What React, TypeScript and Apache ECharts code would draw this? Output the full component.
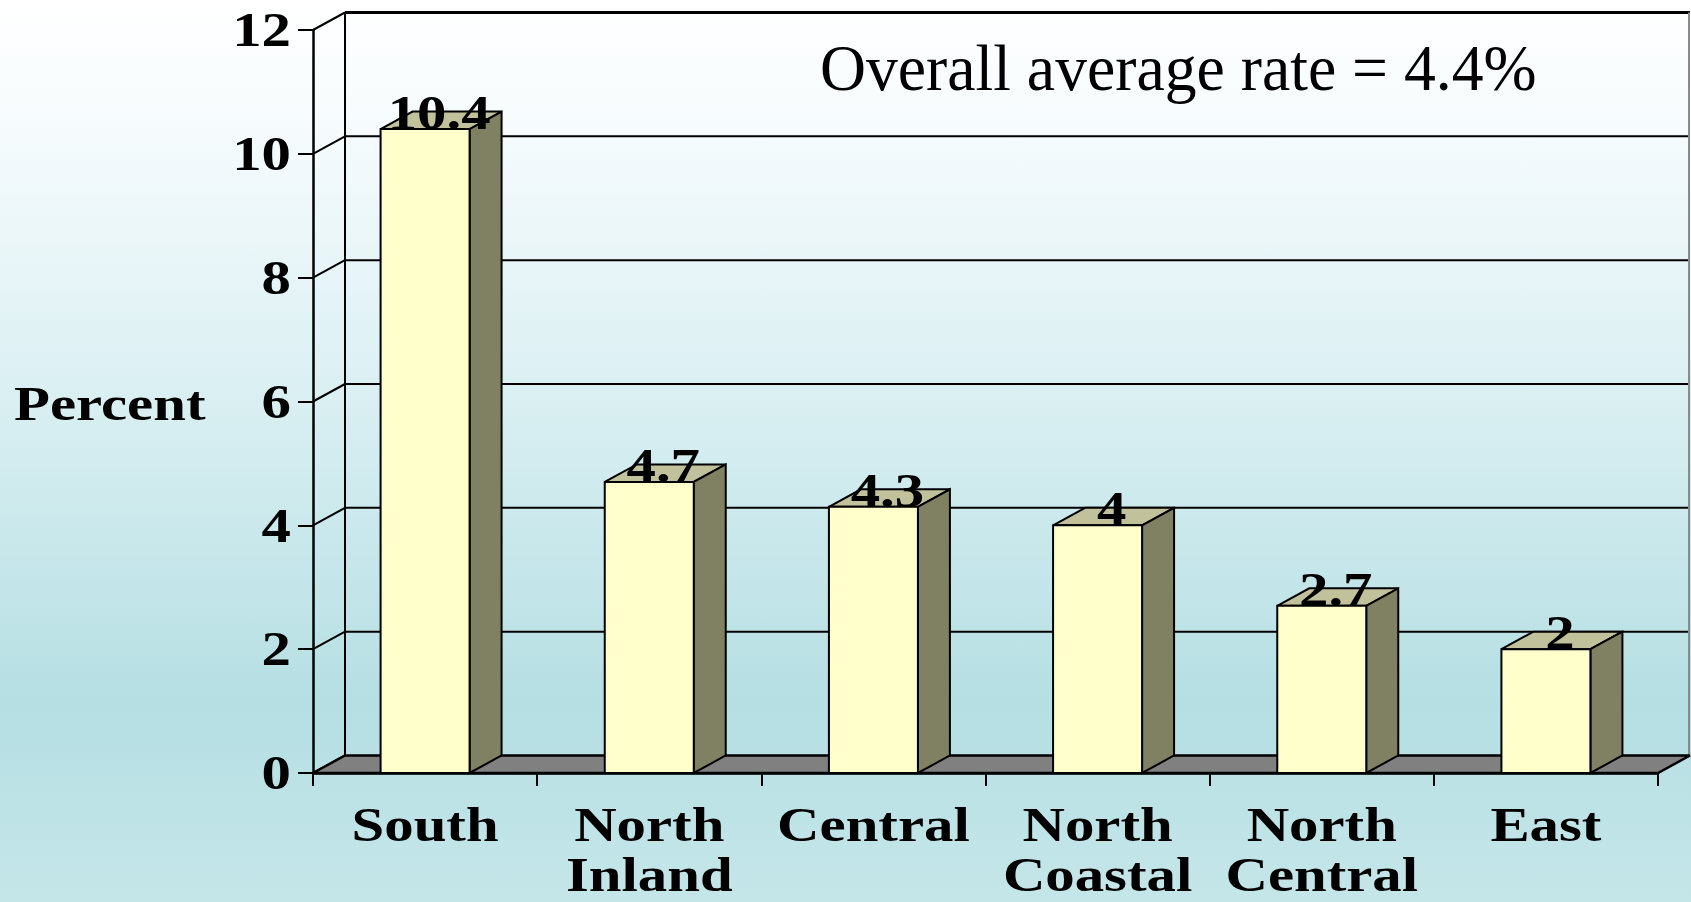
import React, { useEffect, useRef } from "react";
import * as echarts from "echarts";

const categories = ["South", "North\nInland", "Central", "North\nCoastal", "North\nCentral", "East"];
const values = [10.4, 4.7, 4.3, 4, 2.7, 2];
const yTicks = [0, 2, 4, 6, 8, 10, 12];
const noteText = "Overall average rate = 4.4%";
const yName = "Percent";

const DX = 32;
const DY = -17.5;
const BOLD = 'bold 49px "Liberation Serif"';
const SX = 1.2;

function txt(x: number, y: number, text: string, align: string, vAlign: string, font: string, scaleX: number, extra: any = {}) {
  return {
    type: "text",
    x,
    y,
    scaleX,
    style: {
      text,
      font,
      fill: "#000",
      align,
      verticalAlign: vAlign,
      textAlign: align,
      textVerticalAlign: vAlign,
      ...extra,
    },
  };
}

export default function App() {
  const ref = useRef<HTMLDivElement>(null);
  useEffect(() => {
    if (!ref.current) return;
    const chart = echarts.init(ref.current, null, { renderer: "svg" });
    const option: any = {
      animation: false,
      graphic: [
        {
          type: "rect",
          z: -100,
          silent: true,
          shape: { x: 0, y: 0, width: 1691, height: 902 },
          style: {
            fill: {
              type: "linear",
              x: 0,
              y: 0,
              x2: 0,
              y2: 1,
              colorStops: [
                { offset: 0, color: "#ffffff" },
                { offset: 0.15, color: "#f5fbfd" },
                { offset: 0.45, color: "#d9eff2" },
                { offset: 0.78, color: "#b5dfe3" },
                { offset: 1, color: "#c5e6e9" },
              ],
            },
          },
        },
        {
          type: "text",
          x: 14,
          y: 403.5,
          z: 10,
          scaleX: 1.2,
          style: {
            text: yName,
            font: BOLD,
            fill: "#000",
            textAlign: "left",
            align: "left",
            textVerticalAlign: "middle",
            verticalAlign: "middle",
          },
        },
        {
          type: "text",
          x: 820,
          y: 68,
          z: 10,
          scaleX: 0.965,
          style: {
            text: noteText,
            font: '66px "Liberation Serif"',
            fill: "#000",
            textAlign: "left",
            align: "left",
            textVerticalAlign: "middle",
            verticalAlign: "middle",
          },
        },
      ],
      grid: { left: 313, right: 33, top: 30, bottom: 129, containLabel: false },
      xAxis: {
        type: "category",
        data: categories,
        boundaryGap: true,
        axisLine: { show: true, lineStyle: { color: "#000", width: 2.5 } },
        axisTick: { show: true, length: 13, lineStyle: { color: "#000", width: 2 } },
        axisLabel: { show: false },
        splitLine: { show: false },
      },
      yAxis: {
        type: "value",
        min: 0,
        max: 12,
        interval: 2,
        axisLine: { show: true, lineStyle: { color: "#000", width: 2.5 } },
        axisTick: { show: true, length: 15, lineStyle: { color: "#000", width: 2 } },
        axisLabel: { show: false },
        splitLine: { show: false },
      },
      series: [
        {
          type: "custom",
          name: "grid",
          z: 1,
          clip: false,
          silent: true,
          data: yTicks.map((v) => [0, v]),
          renderItem: (params: any, api: any) => {
            const cs = params.coordSys;
            const v = api.value(1);
            const yf = api.coord([0, v])[1];
            const lw = v === 12 ? 3 : 2;
            const children: any[] = [
              {
                type: "line",
                shape: { x1: cs.x, y1: yf, x2: cs.x + DX, y2: yf + DY },
                style: { stroke: "#000", lineWidth: 2 },
              },
            ];
            if (v !== 0) {
              children.push({
                type: "line",
                shape: { x1: cs.x + DX, y1: yf + DY, x2: cs.x + cs.width + DX, y2: yf + DY },
                style: { stroke: "#000", lineWidth: lw },
              });
            }
            children.push(txt(cs.x - 22, yf, String(v), "right", "middle", BOLD, SX));
            return { type: "group", children };
          },
        },
        {
          type: "custom",
          name: "floor",
          z: 2,
          clip: false,
          silent: true,
          data: [[0, 0]],
          renderItem: (params: any, api: any) => {
            const cs = params.coordSys;
            const yb = cs.y + cs.height;
            return {
              type: "group",
              children: [
                {
                  type: "line",
                  shape: { x1: cs.x + DX, y1: cs.y + DY, x2: cs.x + DX, y2: yb + DY },
                  style: { stroke: "#000", lineWidth: 2 },
                },
                {
                  type: "line",
                  shape: { x1: cs.x + cs.width + DX - 1, y1: cs.y + DY, x2: cs.x + cs.width + DX - 1, y2: yb + DY },
                  style: { stroke: "#8a8a8a", lineWidth: 2 },
                },
                {
                  type: "polygon",
                  shape: {
                    points: [
                      [cs.x, yb],
                      [cs.x + cs.width, yb],
                      [cs.x + cs.width + DX, yb + DY],
                      [cs.x + DX, yb + DY],
                    ],
                  },
                  style: { fill: "#808080", stroke: "#000", lineWidth: 2.5 },
                },
              ],
            };
          },
        },
        {
          type: "custom",
          name: "bars",
          z: 3,
          clip: false,
          data: values.map((v, i) => [i, v]),
          renderItem: (params: any, api: any) => {
            const i = api.value(0);
            const v = api.value(1);
            const top = api.coord([i, v]);
            const base = api.coord([i, 0]);
            const cx = top[0];
            const yt = top[1];
            const yb = base[1];
            const bw = api.size([1, 0])[0] * 0.397;
            const xl = cx - bw / 2;
            const xr = cx + bw / 2;
            return {
              type: "group",
              children: [
                {
                  type: "polygon",
                  shape: { points: [[xl, yt], [xr, yt], [xr + DX, yt + DY], [xl + DX, yt + DY]] },
                  style: { fill: "#c1c19c", stroke: "#000", lineWidth: 2 },
                },
                {
                  type: "polygon",
                  shape: { points: [[xr, yt], [xr + DX, yt + DY], [xr + DX, yb + DY], [xr, yb]] },
                  style: { fill: "#808062", stroke: "#000", lineWidth: 2 },
                },
                {
                  type: "rect",
                  shape: { x: xl, y: yt, width: bw, height: yb - yt },
                  style: { fill: "#ffffcc", stroke: "#000", lineWidth: 2 },
                },
                txt(cx + DX / 2 - 2, yt - 16.5, String(v), "center", "middle", BOLD, 1.2),
              ],
            };
          },
        },
        {
          type: "custom",
          name: "catLabels",
          z: 4,
          clip: false,
          silent: true,
          data: categories.map((c, i) => [i, 0]),
          renderItem: (params: any, api: any) => {
            const i = api.value(0);
            const p = api.coord([i, 0]);
            return txt(p[0], p[1] + 27, categories[i], "center", "top", BOLD, SX, { lineHeight: 50 });
          },
        },
      ],
    };
    chart.setOption(option);
    return () => chart.dispose();
  }, []);
  return (
    <div
      ref={ref}
      style={{ position: "absolute", left: 0, top: 0, width: 1691, height: 902 }}
    />
  );
}
